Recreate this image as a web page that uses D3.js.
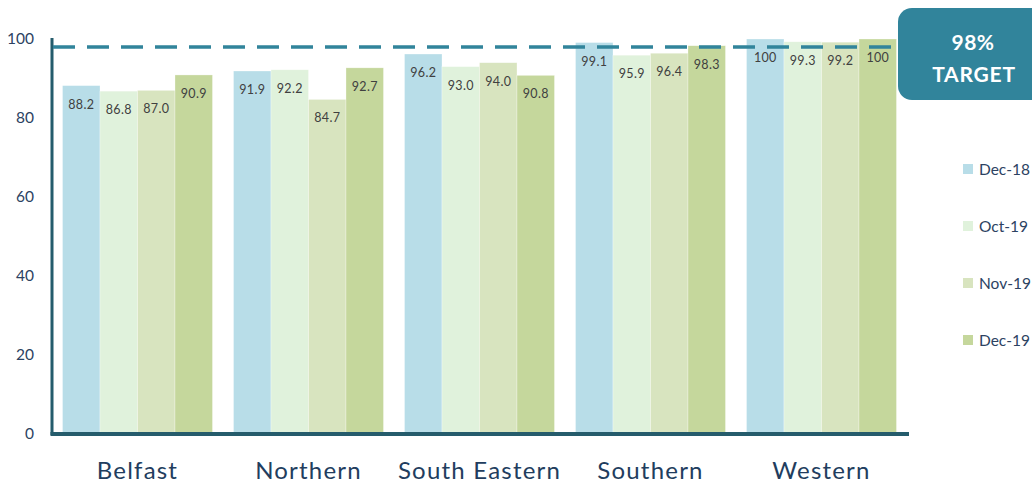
<!DOCTYPE html>
<html>
<head>
<meta charset="utf-8">
<script src="https://cdn.jsdelivr.net/npm/d3@7"></script>
<style>
  body { margin: 0; background: #fff; }
  svg { display: block; font-family: Lato, "Open Sans", sans-serif; }
</style>
</head>
<body>
<div id="chart"></div>
<script>
// regions along the x axis
const regions = ['Belfast', 'Northern', 'South Eastern', 'Southern', 'Western'];
// one series per month
const months = ['Dec-18', 'Oct-19', 'Nov-19', 'Dec-19'];
const dec18 = [88.2, 91.9, 96.2, 99.1, 100];
const oct19 = [86.8, 92.2, 93.0, 95.9, 99.3];
const nov19 = [87.0, 84.7, 94.0, 96.4, 99.2];
const dec19 = [90.9, 92.7, 90.8, 98.3, 100];
const yTicks = [0, 20, 40, 60, 80, 100];
const target = 98;

const seriesValues = [dec18, oct19, nov19, dec19];
const colors = ['#b8dde8', '#e0f2dc', '#d8e4bf', '#c5d79c'];

const width = 1032, height = 484;
const margin = {left: 52, right: 125, top: 39, bottom: 50};

const svg = d3.select('#chart').append('svg')
    .attr('width', width)
    .attr('height', height);

// scales
const x = d3.scaleBand()
    .domain(regions)
    .range([margin.left, width - margin.right])
    .paddingInner(0.123)
    .paddingOuter(0.0615);

const xInner = d3.scaleBand()
    .domain(months)
    .range([0, x.bandwidth()]);

const y = d3.scaleLinear()
    .domain([0, 100])
    .range([height - margin.bottom, margin.top]);

const color = d3.scaleOrdinal().domain(months).range(colors);

// flatten into rows for drawing
const rows = [];
regions.forEach((r, i) => {
  months.forEach((m, j) => rows.push({region: r, month: m, value: seriesValues[j][i]}));
});

// bars
svg.append('g').selectAll('rect')
  .data(rows)
  .enter().append('rect')
    .attr('x', d => x(d.region) + xInner(d.month))
    .attr('y', d => y(d.value))
    .attr('width', xInner.bandwidth())
    .attr('height', d => y(0) - y(d.value))
    .attr('fill', d => color(d.month))
    .attr('stroke', '#ffffff')
    .attr('stroke-opacity', 0.5)
    .attr('stroke-width', 0.6);

// value labels inside the bars
svg.append('g').selectAll('text')
  .data(rows)
  .enter().append('text')
    .attr('x', d => x(d.region) + xInner(d.month) + xInner.bandwidth() / 2)
    .attr('y', d => y(d.value) + 23)
    .attr('text-anchor', 'middle')
    .attr('font-size', 12.5)
    .attr('letter-spacing', 0.3)
    .attr('fill', '#404040')
    .text(d => d.value === 100 ? '100' : d.value.toFixed(1));

// y axis labels
const yAxis = svg.append('g')
    .attr('transform', `translate(${margin.left - 18},0)`)
    .call(d3.axisLeft(y).tickValues(yTicks).tickSize(0).tickPadding(0));
yAxis.select('.domain').remove();
yAxis.selectAll('text')
    .attr('font-family', 'Lato, "Open Sans", sans-serif')
    .attr('font-size', 15.5)
    .attr('fill', '#2c4262');

// x axis labels
const xAxis = svg.append('g')
    .attr('transform', `translate(0,${y(0) + 45})`)
    .call(d3.axisBottom(x).tickSize(0).tickPadding(0));
xAxis.select('.domain').remove();
xAxis.selectAll('text')
    .attr('y', 0).attr('dy', 0)
    .attr('font-family', 'Lato, "Open Sans", sans-serif')
    .attr('font-size', 24)
    .attr('letter-spacing', 1.2)
    .attr('fill', '#223d5e');

// axis lines
svg.append('line')
    .attr('x1', margin.left).attr('x2', margin.left)
    .attr('y1', y(100) - 1).attr('y2', y(0) + 1)
    .attr('stroke', '#255c6c').attr('stroke-width', 3);
svg.append('line')
    .attr('x1', margin.left - 1.5).attr('x2', x.range()[1] + 2)
    .attr('y1', y(0)).attr('y2', y(0))
    .attr('stroke', '#255c6c').attr('stroke-width', 4);

// target line
svg.append('line')
    .attr('x1', margin.left + 1).attr('x2', 900)
    .attr('y1', y(target)).attr('y2', y(target))
    .attr('stroke', '#31849b')
    .attr('stroke-width', 3.5)
    .attr('stroke-dasharray', '22,12');

// target box
svg.append('rect')
    .attr('x', 898).attr('y', 8)
    .attr('width', 150).attr('height', 92)
    .attr('rx', 14)
    .attr('fill', '#31849b');
svg.append('text')
    .attr('x', 973).attr('y', 50)
    .attr('text-anchor', 'middle')
    .attr('font-size', 21).attr('font-weight', 'bold')
    .attr('letter-spacing', 0.5)
    .attr('fill', '#fff')
    .text(target + '%');
svg.append('text')
    .attr('x', 974).attr('y', 82)
    .attr('text-anchor', 'middle')
    .attr('font-size', 21).attr('font-weight', 'bold')
    .attr('letter-spacing', 0.8)
    .attr('fill', '#fff')
    .text('TARGET');

// legend
const legend = svg.append('g').selectAll('g')
  .data(months)
  .enter().append('g')
    .attr('transform', (d, i) => `translate(963,${169 + i * 57})`);
legend.append('rect')
    .attr('x', 0).attr('y', -5)
    .attr('width', 10).attr('height', 10)
    .attr('fill', d => color(d));
legend.append('text')
    .attr('x', 16).attr('y', 6)
    .attr('font-size', 15.5)
    .attr('fill', '#2c4262')
    .text(d => d);
</script>
</body>
</html>
